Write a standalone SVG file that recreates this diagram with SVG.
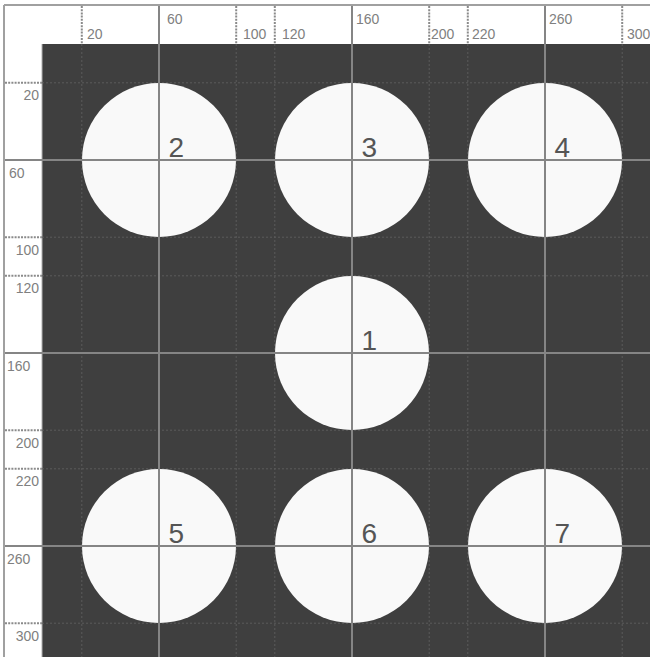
<svg xmlns="http://www.w3.org/2000/svg" width="650" height="657" viewBox="0 0 650 657">
<style>
.rl{font-family:"Liberation Sans",Arial,sans-serif;font-size:14px;fill:#808080}
.nl{font-family:"Liberation Sans",Arial,sans-serif;font-size:28px;fill:#555}
.dot{stroke:#8a8a8a;stroke-width:2;stroke-dasharray:2 1.2;fill:none}
.dotd{stroke:#5c5c5c;stroke-width:1;stroke-dasharray:2 2;fill:none}
.sol{stroke:#858585;stroke-width:2;fill:none}
.c{fill:#f9f9f9}
</style>
<rect x="0" y="0" width="650" height="657" fill="#ffffff"/>
<rect x="42" y="44" width="608" height="613" fill="#3f3f3f"/>
<g id="frame">
<line x1="4" y1="5" x2="650" y2="5" stroke="#a0a0a0" stroke-width="2"/>
<line x1="4" y1="5" x2="4" y2="657" stroke="#a0a0a0" stroke-width="2"/>
<line x1="42" y1="44" x2="42" y2="657" stroke="#b0b0b0" stroke-width="1"/>
</g>
<g id="grid-dotted">
<path class="dot" d="M81.8 6V44M236.2 6V44M274.8 6V44M429.2 6V44M467.8 6V44M622.2 6V44"/>
<path class="dot" d="M5 82.8H42M5 237.2H42M5 275.8H42M5 430.2H42M5 468.8H42M5 623.2H42"/>
<path class="dotd" d="M81.8 44V657M236.2 44V657M274.8 44V657M429.2 44V657M467.8 44V657M622.2 44V657"/>
<path class="dotd" d="M42 82.8H650M42 237.2H650M42 275.8H650M42 430.2H650M42 468.8H650M42 623.2H650"/>
</g>
<g id="node-2"><circle class="c" cx="159" cy="160" r="77"/></g>
<g id="node-3"><circle class="c" cx="352" cy="160" r="77"/></g>
<g id="node-4"><circle class="c" cx="545" cy="160" r="77"/></g>
<g id="node-1"><circle class="c" cx="352" cy="353" r="77"/></g>
<g id="node-5"><circle class="c" cx="159" cy="546" r="77"/></g>
<g id="node-6"><circle class="c" cx="352" cy="546" r="77"/></g>
<g id="node-7"><circle class="c" cx="545" cy="546" r="77"/></g>
<g id="grid-solid">
<path class="sol" d="M159 6V657M352 6V657M545 6V657"/>
<path class="sol" d="M5 160H650M5 353H650M5 546H650"/>
</g>
<g id="ruler-top">
<text class="rl" x="87" y="39">20</text>
<text class="rl" x="167" y="24">60</text>
<text class="rl" x="243" y="39">100</text>
<text class="rl" x="282" y="39">120</text>
<text class="rl" x="356" y="24">160</text>
<text class="rl" x="431" y="39">200</text>
<text class="rl" x="472" y="39">220</text>
<text class="rl" x="549" y="24">260</text>
<text class="rl" x="627" y="39">300</text>
</g>
<g id="ruler-left">
<text class="rl" x="39" y="100" text-anchor="end">20</text>
<text class="rl" x="9" y="178">60</text>
<text class="rl" x="39" y="255" text-anchor="end">100</text>
<text class="rl" x="39" y="293" text-anchor="end">120</text>
<text class="rl" x="7" y="371">160</text>
<text class="rl" x="39" y="448" text-anchor="end">200</text>
<text class="rl" x="39" y="486" text-anchor="end">220</text>
<text class="rl" x="7" y="564">260</text>
<text class="rl" x="39" y="641" text-anchor="end">300</text>
</g>
<g id="labels">
<text class="nl" x="168.5" y="157">2</text>
<text class="nl" x="361.5" y="157">3</text>
<text class="nl" x="554.5" y="157">4</text>
<text class="nl" x="361.5" y="350">1</text>
<text class="nl" x="168.5" y="543">5</text>
<text class="nl" x="361.5" y="543">6</text>
<text class="nl" x="554.5" y="543">7</text>
</g>
</svg>
